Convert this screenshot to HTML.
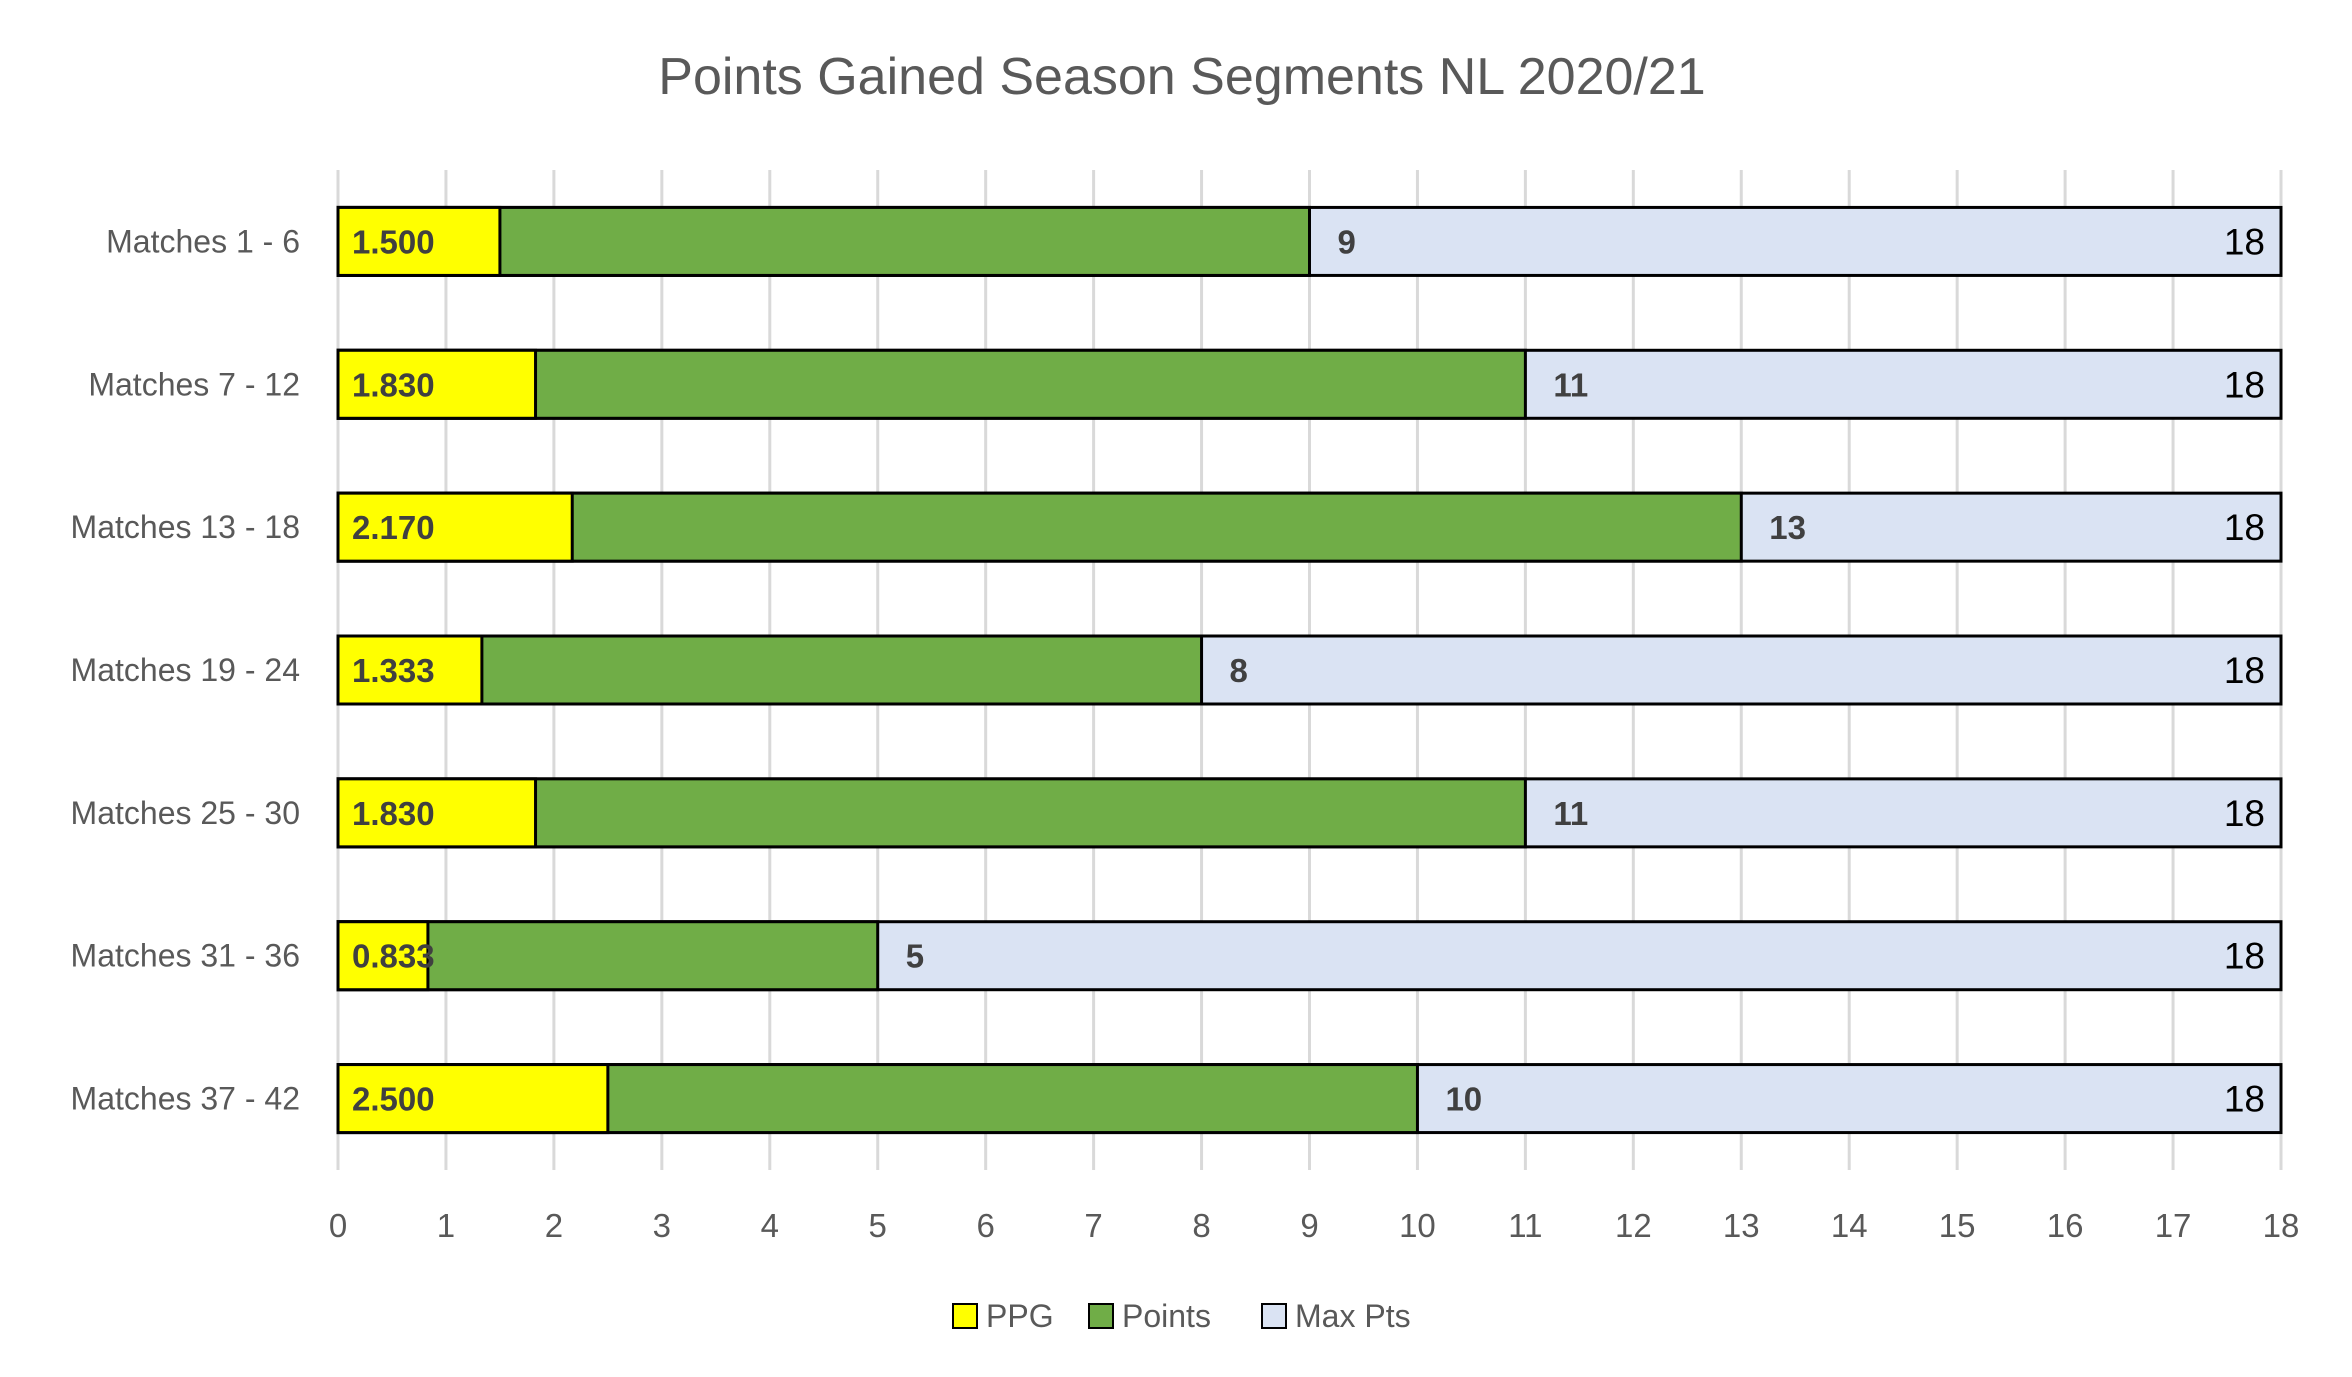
<!DOCTYPE html>
<html><head><meta charset="utf-8"><style>
html,body{margin:0;padding:0;background:#fff;}
svg{display:block;font-family:"Liberation Sans",sans-serif;}
</style></head><body>
<svg id="chart" width="2352" height="1377" viewBox="0 0 2352 1377">
<text x="1182" y="94" text-anchor="middle" font-size="52" fill="#595959">Points Gained Season Segments NL 2020/21</text>
<g id="grid"></g><g id="bars"></g><g id="xt"></g><g id="yt"></g>
<g>
<rect x="953" y="1304" width="24" height="24" fill="#ffff00" stroke="#000" stroke-width="2"/>
<text x="986" y="1327" font-size="32" fill="#595959">PPG</text>
<rect x="1089" y="1304" width="24" height="24" fill="#70ad47" stroke="#000" stroke-width="2"/>
<text x="1122" y="1327" font-size="32" fill="#595959">Points</text>
<rect x="1262" y="1304" width="24" height="24" fill="#dae3f3" stroke="#000" stroke-width="2"/>
<text x="1295" y="1327" font-size="32" fill="#595959">Max Pts</text>
</g>
</svg>
<script>
const categories=["Matches 1 - 6","Matches 7 - 12","Matches 13 - 18","Matches 19 - 24","Matches 25 - 30","Matches 31 - 36","Matches 37 - 42"];
const ppg=[1.5,1.83,2.17,1.333,1.83,0.833,2.5];
const ppgLabels=["1.500","1.830","2.170","1.333","1.830","0.833","2.500"];
const points=[9,11,13,8,11,5,10];
const maxPts=[18,18,18,18,18,18,18];
const xTicks=[0,1,2,3,4,5,6,7,8,9,10,11,12,13,14,15,16,17,18];

const NS="http://www.w3.org/2000/svg";
const X0=338,X1=2281,XMAX=18,TOP=170,BOT=1170;
const xs=v=>X0+(X1-X0)*v/XMAX;
const band=(BOT-TOP)/categories.length;
const yc=i=>TOP+band*(i+0.5);
const BH=68;
function mk(tag,attrs,parent){const e=document.createElementNS(NS,tag);for(const k in attrs)e.setAttribute(k,attrs[k]);document.getElementById(parent).appendChild(e);return e;}
xTicks.forEach(t=>{
  const l=mk('line',{x1:xs(t),x2:xs(t),y1:TOP,y2:BOT,stroke:'#d9d9d9','stroke-width':3},'grid');
  
  
  const tx=mk('text',{x:xs(t),y:1237,'text-anchor':'middle','font-size':33,fill:'#595959'},'xt');
  tx.textContent=t;
  
  
});
categories.forEach((c,i)=>{
  const y=yc(i)-BH/2;
  const m=mk('rect',{x:xs(0),y:y,width:xs(maxPts[i])-xs(0),height:BH,fill:'#dae3f3',stroke:'#000','stroke-width':3},'bars');
  
  
  const p=mk('rect',{x:xs(0),y:y,width:xs(points[i])-xs(0),height:BH,fill:'#70ad47',stroke:'#000','stroke-width':3},'bars');
  
  
  const g=mk('rect',{x:xs(0),y:y,width:xs(ppg[i])-xs(0),height:BH,fill:'#ffff00',stroke:'#000','stroke-width':3},'bars');
  
  
  const tl=mk('text',{x:xs(0)+14,y:yc(i)+12,'font-size':33,'font-weight':'bold',fill:'#404040'},'bars');
  tl.textContent=ppgLabels[i];
  
  
  const pl=mk('text',{x:xs(points[i])+28,y:yc(i)+12,'font-size':33,'font-weight':'bold',fill:'#404040'},'bars');
  pl.textContent=points[i];
  
  
  const ml=mk('text',{x:xs(maxPts[i])-16,y:yc(i)+13,'font-size':37,'text-anchor':'end',fill:'#000'},'bars');
  ml.textContent=maxPts[i];
  
  
  const yl=mk('text',{x:300,y:yc(i)+11,'font-size':32,'text-anchor':'end',fill:'#595959'},'yt');
  yl.textContent=c;
  
  
});
</script>
</body></html>
